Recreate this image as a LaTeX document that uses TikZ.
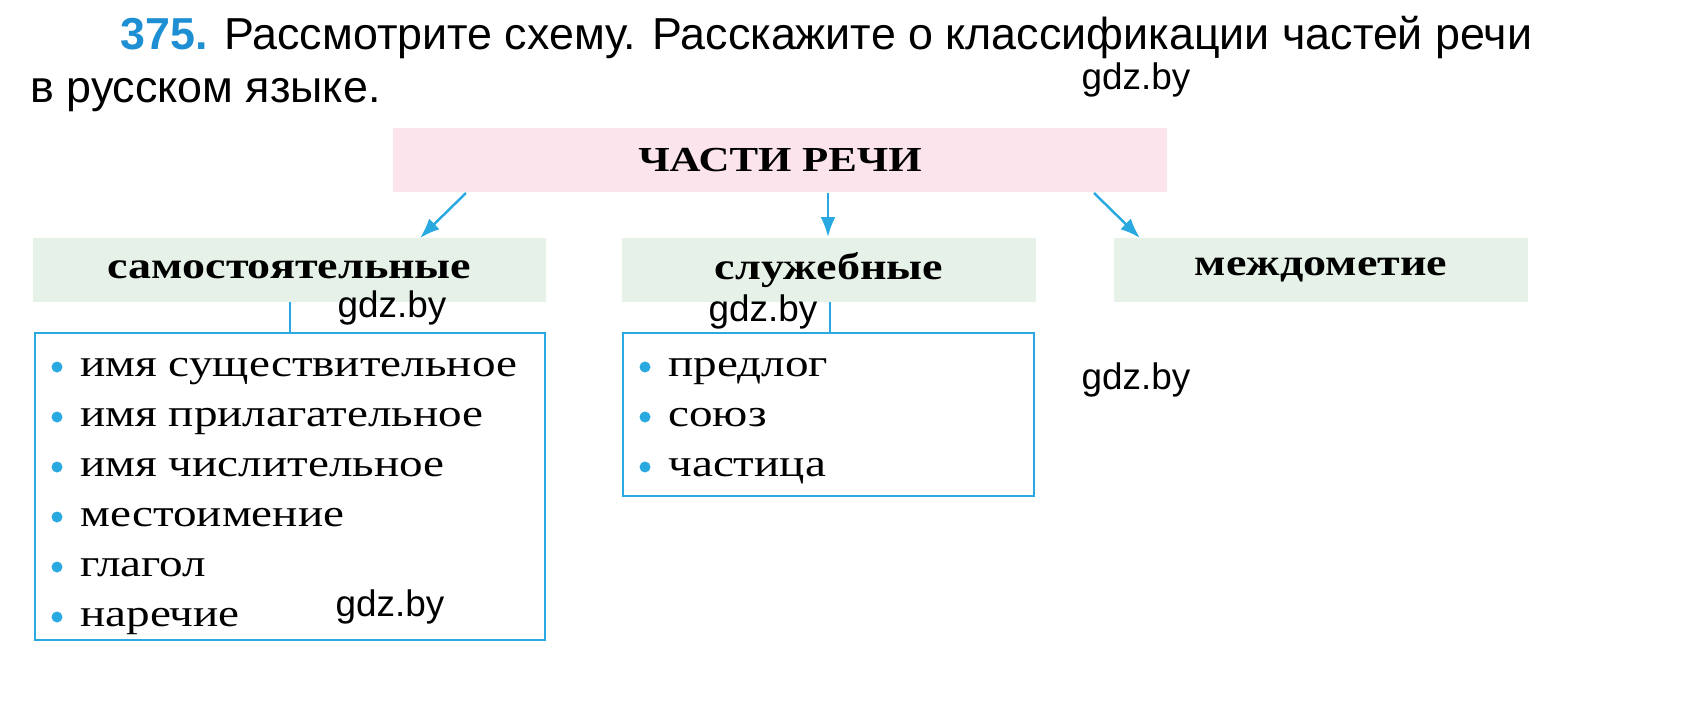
\documentclass[tikz,border=0pt]{standalone}
\usepackage{fontspec}
\setmainfont{Liberation Serif}[FakeStretch=1.22]
\newfontfamily\headfont{Liberation Sans}
\usetikzlibrary{positioning,arrows.meta}
\definecolor{numblue}{HTML}{1E8FD2}
\definecolor{lineblue}{HTML}{2AA8E0}
\definecolor{pinkfill}{HTML}{FCE4EC}
\definecolor{greenfill}{HTML}{E6F2E8}
\tikzset{
  headbox/.style={fill=pinkfill, minimum width=15.5cm, minimum height=1.3cm, font=\bfseries\fontsize{20}{24}\selectfont},
  groupbox/.style={fill=greenfill, minimum height=1.28cm, font=\bfseries\fontsize{21.5}{26}\selectfont},
  listbox/.style={draw=lineblue, line width=1.2pt},
  item/.style={anchor=base west, font=\fontsize{22}{26}\selectfont, inner sep=0pt},
  dot/.style={circle, fill=lineblue, inner sep=0pt, minimum size=0.22cm},
  arr/.style={-{Latex[length=0.4cm,width=0.3cm]}, draw=lineblue, line width=1.4pt},
  wmark/.style={font=\headfont\fontsize{21}{24}\selectfont, inner sep=0pt}
}
\begin{document}
\begin{tikzpicture}[x=0.02cm, y=-0.02cm]
    \useasboundingbox (0,0) rectangle (1697,713);

    % Task text
    \node[anchor=base west, inner sep=0pt, font=\headfont\fontsize{25.5}{30}\selectfont] (task1) at (120,50)
        {\textcolor{numblue}{\bfseries 375.} Рассмотрите схему. Расскажите о классификации частей речи};
    \node[anchor=base west, inner sep=0pt, font=\headfont\fontsize{25.5}{30}\selectfont] (task2) at (30,103)
        {в русском языке.};

    % Boxes
    \node[headbox] (parts) at (780,160) {ЧАСТИ РЕЧИ};
    \node[groupbox, minimum width=10.26cm] (indep) at (289.5,270) {самостоятельные};
    \node[groupbox, minimum width=8.28cm] (aux) at (829,270) {служебные};
    \node[groupbox, minimum width=8.28cm] (interj) at (1321,270) {междометие};

    % Arrows
    \coordinate (a1) at (466,193);
    \coordinate (a2) at (828,193);
    \coordinate (a3) at (1094,193);
    \draw[arr] (a1) -- (420,238);
    \draw[arr] (a2) -- (828,237);
    \draw[arr] (a3) -- (1140,238);

    % List frames
    \draw[listbox] (35,333) rectangle (545,640);
    \draw[listbox] (623,333) rectangle (1034,496);
    \draw[lineblue, line width=1.2pt] (290,302) -- (290,333);
    \draw[lineblue, line width=1.2pt] (830,302) -- (830,333);

    % Items
    \foreach \txt [count=\i] in {имя существительное, имя прилагательное, имя числительное, местоимение, глагол, наречие} {
        \node[dot] (d\i) at (57,{367+50*(\i-1)}) {};
        \node[item] (w\i) at (80,{376+50*(\i-1)}) {\txt};
    }
    \foreach \txt [count=\i] in {предлог, союз, частица} {
        \node[dot] (s\i) at (645,{367+50*(\i-1)}) {};
        \node[item] (v\i) at (668,{376+50*(\i-1)}) {\txt};
    }

    % Marks
    \node[wmark] (g1) at (1136,80) {gdz.by};
    \node[wmark] (g2) at (392,308) {gdz.by};
    \node[wmark] (g3) at (763,312) {gdz.by};
    \node[wmark] (g4) at (1136,380) {gdz.by};
    \node[wmark] (g5) at (390,607) {gdz.by};

\end{tikzpicture}
\end{document}
